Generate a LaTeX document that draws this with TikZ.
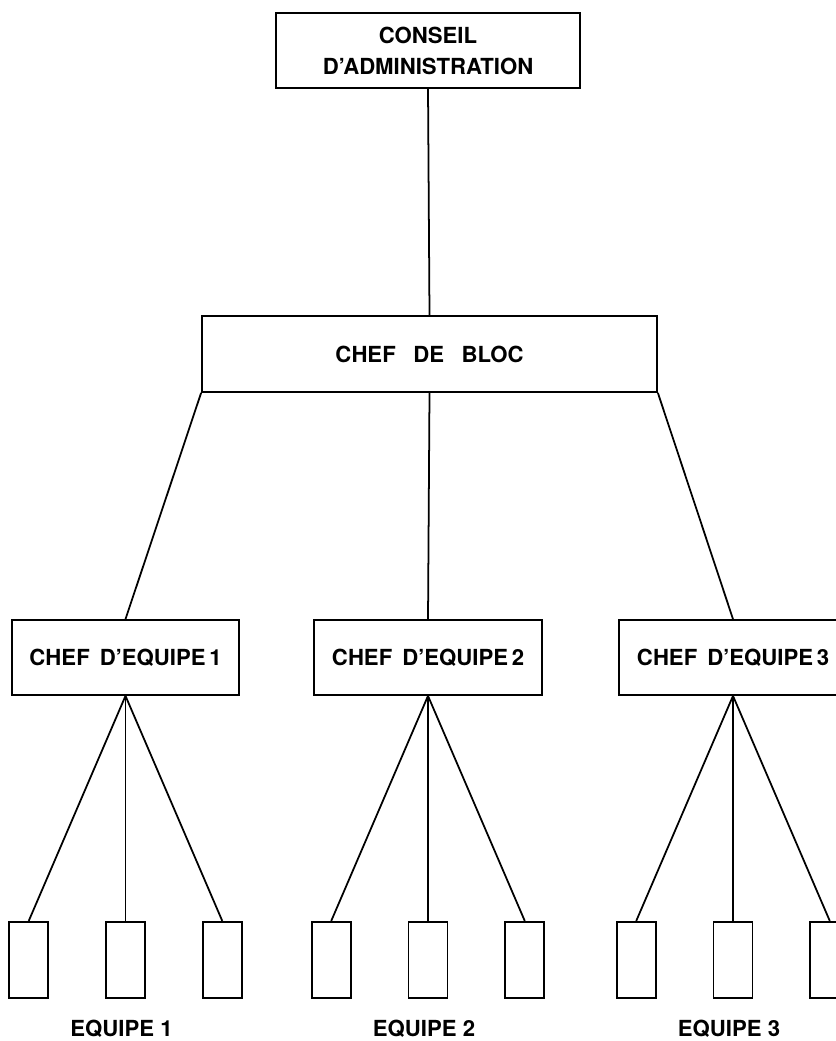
\documentclass[tikz,border=0pt]{standalone}
\usepackage{fontspec}
\setmainfont{TeX Gyre Heros}
\usetikzlibrary{positioning,calc}
\tikzset{every picture/.style={line width=1pt}}
\tikzset{
    poste/.style={draw, minimum height=1.5cm, inner sep=0pt, align=center,
        font=\bfseries\fontsize{12.6}{17.6}\selectfont},
    membre/.style={draw, minimum width=0.78cm, minimum height=1.52cm, inner sep=0pt},
    etiquette/.style={font=\bfseries\fontsize{12.6}{15}\selectfont}
}

\begin{document}
\begin{tikzpicture}
    \useasboundingbox (0,0) rectangle (16.72,-20.82);
    \node[poste, minimum width=6.08cm] (ca) at (8.56,-1.01) {CONSEIL\\D'ADMINISTRATION};
    \node[poste, minimum width=9.1cm, minimum height=1.52cm] (bloc) at (8.59,-7.08)
        {CHEF\hspace{0.35cm}DE\hspace{0.35cm}BLOC};
    \node[poste, minimum width=4.54cm] (ce1) at (2.51,-13.15) {CHEF\hspace{0.2cm}D'EQUIPE\,1};
    \node[poste, minimum width=4.56cm] (ce2) at (8.56,-13.15) {CHEF\hspace{0.2cm}D'EQUIPE\,2};
    \node[poste, minimum width=4.56cm] (ce3) at (14.66,-13.15) {CHEF\hspace{0.2cm}D'EQUIPE\,3};
    \draw (ca.south) -- (bloc.north);
    \draw (bloc.south west) -- (ce1.north);
    \draw (bloc.south) -- (ce2.north);
    \draw (bloc.south east) -- (ce3.north);
    \foreach \i in {1,2,3} {
        \node[membre, below=4.5cm of ce\i] (m\i-b) {};
        \node[membre, left=1.12cm of m\i-b] (m\i-a) {};
        \node[membre, right=1.12cm of m\i-b] (m\i-c) {};
        \node[etiquette, below=0.3cm of m\i-b, xshift=-0.08cm] (eq\i) {EQUIPE \i};
        \draw (ce\i.south) -- (m\i-a.north);
        \draw (ce\i.south) -- (m\i-b.north);
        \draw (ce\i.south) -- (m\i-c.north);
    }
\end{tikzpicture}
\end{document}
